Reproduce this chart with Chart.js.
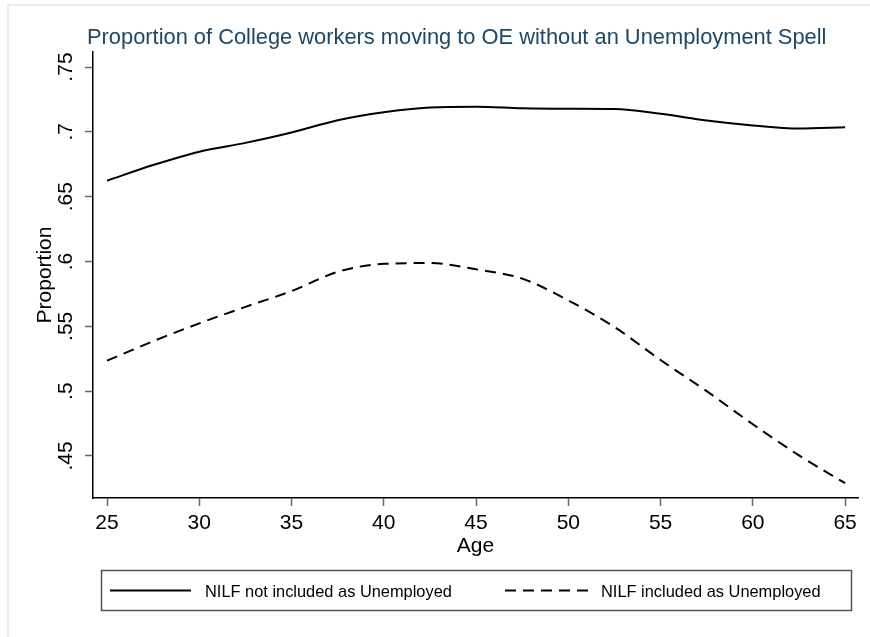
<!DOCTYPE html>
<html>
<head>
<meta charset="utf-8">
<script src="https://cdn.jsdelivr.net/npm/chart.js@4"></script>
<style>
html,body{margin:0;padding:0;background:#fff;}
#wrap{width:870px;height:637px;position:relative;}
</style>
</head>
<body>
<div id="wrap"><canvas id="c" width="870" height="637"></canvas></div>
<script>
// ---- data ----
const ages = [25, 27.5, 30, 32.5, 35, 37.5, 40, 42.5, 45, 47.5, 50, 52.5, 55, 57.5, 60, 62.5, 65];
const nilfNotIncluded = [0.6623, 0.6744, 0.6847, 0.6915, 0.6995, 0.7090, 0.7152, 0.7188, 0.7194, 0.7182, 0.7178, 0.7176, 0.7140, 0.7088, 0.7050, 0.7026, 0.7035];
const nilfIncluded    = [0.5235, 0.5385, 0.5523, 0.5650, 0.5772, 0.5920, 0.5982, 0.5988, 0.5940, 0.5868, 0.5700, 0.5495, 0.5240, 0.5000, 0.4745, 0.4505, 0.4290];
const seriesLabels = ['NILF not included as Unemployed', 'NILF included as Unemployed'];
const xTicks = [25, 30, 35, 40, 45, 50, 55, 60, 65];
const yTicks = [0.45, 0.5, 0.55, 0.6, 0.65, 0.7, 0.75];
const yTickLabels = ['.45', '.5', '.55', '.6', '.65', '.7', '.75'];
const chartTitle = 'Proportion of College workers moving to OE without an Unemployment Spell';
const xTitle = 'Age';
const yTitle = 'Proportion';

const FONT = '"Liberation Sans", Arial, Helvetica, sans-serif';

const toPoints = (xs, ys) => xs.map((x, i) => ({x: x, y: ys[i]}));

const framePlugin = {
  id: 'frame',
  beforeDraw(chart) {
    const ctx = chart.ctx;
    ctx.save();
    ctx.fillStyle = '#ffffff';
    ctx.fillRect(0, 0, chart.width, chart.height);
    ctx.strokeStyle = '#e6eef0';
    ctx.lineWidth = 2;
    ctx.beginPath();
    ctx.moveTo(8, chart.height);
    ctx.lineTo(8, 5);
    ctx.lineTo(chart.width, 5);
    ctx.stroke();
    ctx.restore();
  },
  afterLayout(chart) {
    const t = chart.titleBlock;
    if (t) { t.left = 87; t.right = chart.width; }
  }
};

const legendPlugin = {
  id: 'boxLegend',
  afterDraw(chart) {
    const ctx = chart.ctx;
    ctx.save();
    ctx.strokeStyle = '#555555';
    ctx.lineWidth = 1.5;
    ctx.setLineDash([]);
    ctx.strokeRect(101.5, 570.5, 750, 40);
    const slots = [{l0: 110, l1: 191, tx: 205}, {l0: 505, l1: 588, tx: 601}];
    chart.data.datasets.forEach((ds, i) => {
      const s = slots[i];
      ctx.setLineDash(ds.borderDash || []);
      ctx.strokeStyle = ds.borderColor;
      ctx.lineWidth = ds.borderWidth;
      ctx.beginPath();
      ctx.moveTo(s.l0, 590.5);
      ctx.lineTo(s.l1, 590.5);
      ctx.stroke();
      ctx.setLineDash([]);
      ctx.fillStyle = '#000000';
      ctx.font = '16.4px ' + FONT;
      ctx.textAlign = 'left';
      ctx.textBaseline = 'middle';
      ctx.fillText(ds.label, s.tx, 592);
    });
    ctx.restore();
  }
};

const gridOpts = {
  display: true,
  drawOnChartArea: false,
  drawTicks: true,
  tickLength: 8,
  tickColor: '#666666',
  tickWidth: 1.5,
  color: '#666666'
};
const borderOpts = {display: true, color: '#000000', width: 1.5};

new Chart(document.getElementById('c'), {
  type: 'line',
  data: {
    datasets: [
      {
        label: seriesLabels[0],
        data: toPoints(ages, nilfNotIncluded),
        borderColor: '#000000',
        borderWidth: 2,
        pointRadius: 0,
        fill: false,
        cubicInterpolationMode: 'monotone'
      },
      {
        label: seriesLabels[1],
        data: toPoints(ages, nilfIncluded),
        borderColor: '#000000',
        borderWidth: 2,
        borderDash: [11, 7],
        pointRadius: 0,
        fill: false,
        cubicInterpolationMode: 'monotone'
      }
    ]
  },
  options: {
    responsive: false,
    animation: false,
    devicePixelRatio: 1,
    layout: {padding: {top: 0, left: 0, right: 12, bottom: 80}},
    plugins: {
      legend: {display: false},
      tooltip: {enabled: false},
      title: {
        display: true,
        text: chartTitle,
        align: 'start',
        color: '#1a476f',
        font: {family: FONT, size: 21.85, weight: 'normal'},
        padding: {top: 25, bottom: 0.78}
      }
    },
    scales: {
      x: {
        type: 'linear',
        min: 24.24,
        max: 65.7,
        afterBuildTicks: (s) => { s.ticks = xTicks.map(v => ({value: v})); },
        afterFit: (s) => { s.height = 59; },
        ticks: {
          color: '#000000',
          font: {family: FONT, size: 21},
          padding: 4.4,
          autoSkip: false,
          maxRotation: 0,
          minRotation: 0,
          callback: (v) => String(v)
        },
        grid: gridOpts,
        border: borderOpts,
        title: {
          display: true,
          text: xTitle,
          color: '#000000',
          font: {family: FONT, size: 21},
          padding: {top: 0, bottom: -2}
        }
      },
      y: {
        type: 'linear',
        min: 0.4176,
        max: 0.7616,
        afterBuildTicks: (s) => { s.ticks = yTicks.map(v => ({value: v})); },
        afterFit: (s) => { s.width = 93; },
        ticks: {
          color: '#000000',
          font: {family: FONT, size: 21},
          padding: 4,
          autoSkip: false,
          minRotation: 90,
          maxRotation: 90,
          crossAlign: 'center',
          callback: (v) => {
            const i = yTicks.findIndex(t => Math.abs(t - v) < 1e-9);
            return i >= 0 ? yTickLabels[i] : '';
          }
        },
        grid: gridOpts,
        border: borderOpts,
        title: {
          display: true,
          text: yTitle,
          color: '#000000',
          font: {family: FONT, size: 21},
          padding: {top: 33, bottom: 0}
        }
      }
    }
  },
  plugins: [framePlugin, legendPlugin]
});
</script>
</body>
</html>
